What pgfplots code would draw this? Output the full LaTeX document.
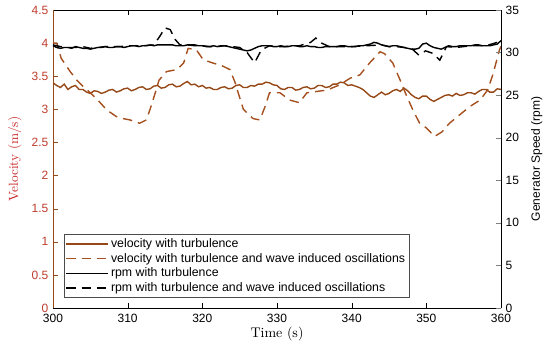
\documentclass[border=0pt]{standalone}
\usepackage{pgfplots}
\pgfplotsset{compat=1.18}
\usepackage{fontspec}
\newfontfamily\hel{Liberation Sans}
\usetikzlibrary{calc}
\definecolor{velsolid}{RGB}{150,72,22}
\definecolor{veldashc}{RGB}{165,80,30}
\definecolor{velaxis}{RGB}{150,72,22}
\definecolor{veltick}{RGB}{190,60,45}
\definecolor{vellabel}{RGB}{200,40,40}
\begin{document}
\begin{tikzpicture}
\pgfplotsset{
  myaxis/.style={
    scale only axis, width=336pt, height=223.5pt,
    xmin=300, xmax=360,
    tick align=inside,
    major tick length=4pt,
    /pgf/number format/assume math mode=true,
    tick label style={font=\hel\fontsize{9}{10}\selectfont},
    clip=true,
  },
  vS/.style={color=velsolid, line width=1.05pt, solid},
  vD/.style={color=veldashc, line width=1.05pt, dash pattern=on 7pt off 4.5pt},
  rS/.style={color=black, line width=1.05pt, solid},
  rD/.style={color=black, line width=1.05pt, dash pattern=on 7pt off 4.5pt},
}
\begin{axis}[myaxis, name=ax,
  ymin=0, ymax=4.5,
  axis y line*=left,
  xtick={300,310,...,360},
  ytick={0,0.5,...,4.5},
  yticklabels={0,0.5,1,1.5,2,2.5,3,3.5,4,4.5},
  y axis line style={velaxis},
  y tick style={velaxis},
  yticklabel style={veltick},
  xticklabel style={yshift=-1.2pt},
  x tick style={black},
  xlabel={Time (s)},
  xlabel style={font=\fontsize{10.5}{12}\selectfont, at={(axis description cs:0.5,-0.088)}, anchor=center},
  ylabel={Velocity (m/s)},
  ylabel style={font=\fontsize{10}{12}\selectfont, vellabel, at={(axis description cs:-0.085,0.5)}, anchor=center},
]
\addplot[vS] coordinates {
(300,3.40)(300.5,3.36)(301,3.33)(301.5,3.38)(302,3.30)(302.5,3.34)(303,3.36)(303.5,3.30)(304,3.30)(304.5,3.26)(305,3.24)(305.5,3.28)(306,3.27)(306.5,3.24)(307,3.26)(307.5,3.29)(308,3.30)(308.5,3.26)(309,3.28)(309.5,3.31)(310,3.32)(310.5,3.28)(311,3.30)(311.5,3.33)(312,3.34)(312.5,3.30)(313,3.31)(313.5,3.35)(314,3.36)(314.5,3.32)(315,3.33)(315.5,3.37)(316,3.38)(316.5,3.34)(317,3.35)(317.5,3.39)(318,3.42)(318.5,3.37)(319,3.38)(319.5,3.34)(320,3.36)(320.5,3.32)(321,3.33)(321.5,3.30)(322,3.30)(322.5,3.33)(323,3.34)(323.5,3.31)(324,3.32)(324.5,3.36)(325,3.37)(325.5,3.33)(326,3.33)(326.5,3.36)(327,3.35)(327.5,3.38)(328,3.38)(328.5,3.41)(329,3.40)(329.5,3.37)(330,3.36)(330.5,3.31)(331,3.30)(331.5,3.33)(332,3.33)(332.5,3.29)(333,3.30)(333.5,3.33)(334,3.34)(334.5,3.31)(335,3.32)(335.5,3.36)(336,3.36)(336.5,3.33)(337,3.34)(337.5,3.38)(338,3.38)(338.5,3.41)(339,3.40)(339.5,3.36)(340,3.37)(340.5,3.35)(341,3.33)(341.5,3.30)(342,3.25)(342.5,3.20)(343,3.18)(343.5,3.22)(344,3.26)(344.5,3.22)(345,3.24)(345.5,3.28)(346,3.30)(346.5,3.27)(347,3.32)(347.5,3.28)(348,3.22)(348.5,3.18)(349,3.16)(349.5,3.20)(350,3.20)(350.5,3.15)(351,3.12)(351.5,3.15)(352,3.18)(352.5,3.21)(353,3.22)(353.5,3.20)(354,3.24)(354.5,3.21)(355,3.22)(355.5,3.25)(356,3.25)(356.5,3.23)(357,3.27)(357.5,3.30)(358,3.30)(358.5,3.26)(359,3.26)(359.5,3.31)(360,3.30)
};
\addplot[vD] coordinates {
(300,4.00)(300.5,4.00)(301.1,3.77)(302.3,3.57)(303.2,3.44)(304,3.35)(305,3.25)(306,3.14)(307.2,2.99)(308.5,2.89)(309.4,2.86)(310.3,2.84)(311.6,2.79)(312.5,2.84)(313,3.00)(313.7,3.25)(314.2,3.44)(315.2,3.57)(316.6,3.60)(317.5,3.70)(318.1,3.92)(319.2,3.90)(320.1,3.75)(321.4,3.70)(322.6,3.66)(323.7,3.60)(324.4,3.40)(324.8,3.25)(325.5,3.00)(326.8,2.86)(327.7,2.84)(328.4,3.04)(329,3.25)(330.4,3.25)(331.7,3.14)(333,3.10)(334,3.25)(335.3,3.27)(336.7,3.29)(338.4,3.37)(339.8,3.47)(341.1,3.52)(342.4,3.70)(343.8,3.87)(344.4,3.84)(345.5,3.70)(346.5,3.44)(347.4,3.19)(348.2,2.99)(349.1,2.79)(350,2.72)(351.1,2.59)(352.1,2.66)(353.1,2.79)(354.5,2.92)(355.8,3.04)(357.2,3.14)(358.2,3.29)(358.9,3.52)(359.8,3.90)(360,3.95)
};
\end{axis}
\begin{axis}[myaxis,
  ymin=0, ymax=35,
  axis y line*=right,
  axis x line=none,
  ytick={0,5,...,35},
  ylabel={Generator Speed (rpm)},
  ylabel style={font=\hel\fontsize{9}{11}\selectfont, at={(axis description cs:1.08,0.5)}, anchor=center},
  legend cell align=left,
  legend style={at={(axis description cs:0.0246,0.034)}, anchor=south west,
    font=\hel\fontsize{9.25}{10}\selectfont, draw=black!70, inner sep=1pt,
    row sep=-1.2pt, fill=white},
  legend image code/.code={\draw[#1] (0pt,0pt) -- (31pt,0pt);},
]
\addlegendimage{vS}
\addlegendentry{velocity with turbulence}
\addlegendimage{vD}
\addlegendentry{velocity with turbulence and wave induced oscillations}
\addplot[rS] coordinates {
(300,30.8)(300.5,30.6)(301,30.5)(301.5,30.6)(302,30.6)(302.5,30.5)(303,30.7)(303.5,30.6)(304,30.5)(304.5,30.5)(305,30.4)(305.5,30.5)(306,30.6)(306.5,30.6)(307,30.7)(307.5,30.6)(308,30.6)(308.5,30.7)(309,30.7)(309.5,30.6)(310,30.7)(310.5,30.8)(311,30.8)(311.5,30.7)(312,30.8)(312.5,30.8)(313,30.9)(313.5,30.8)(314,30.9)(314.5,30.9)(315,30.9)(315.5,30.9)(316,30.9)(316.5,30.8)(317,30.8)(317.5,30.8)(318,30.9)(318.5,30.9)(319,30.9)(319.5,30.8)(320,30.8)(320.5,30.7)(321,30.7)(321.5,30.8)(322,30.7)(322.5,30.8)(323,30.8)(323.5,30.7)(324,30.6)(324.5,30.5)(325,30.4)(325.5,30.3)(326,30.2)(326.5,30.3)(327,30.5)(327.5,30.7)(328,30.8)(328.5,30.8)(329,30.8)(329.5,30.7)(330,30.7)(330.5,30.8)(331,30.7)(331.5,30.7)(332,30.8)(332.5,30.8)(333,30.7)(333.5,30.7)(334,30.8)(334.5,30.7)(335,30.7)(335.5,30.6)(336,30.6)(336.5,30.7)(337,30.7)(337.5,30.7)(338,30.7)(338.5,30.8)(339,30.8)(339.5,30.7)(340,30.7)(340.5,30.7)(341,30.8)(341.5,30.8)(342,30.9)(342.5,31.0)(343,31.2)(343.5,31.1)(344,30.9)(344.5,30.8)(345,30.7)(345.5,30.8)(346,30.8)(346.5,30.7)(347,30.6)(347.5,30.5)(348,30.4)(348.5,30.4)(349,30.5)(349.5,31.0)(350,31.1)(350.5,30.8)(351,30.6)(351.5,30.5)(352,30.4)(352.5,30.6)(353,30.8)(353.5,30.7)(354,30.7)(354.5,30.8)(355,30.8)(355.5,30.8)(356,30.8)(356.5,30.9)(357,30.9)(357.5,30.8)(358,30.8)(358.5,30.8)(359,30.9)(359.5,31.0)(360,31.4)
};
\addlegendentry{rpm with turbulence}
\addplot[rD] coordinates {
(300,30.9)(301,30.7)(302,30.6)(303,30.6)(304,30.7)(305,30.5)(306,30.6)(307,30.7)(308,30.7)(309,30.7)(310,30.8)(311,30.8)(312,30.8)(313.5,30.9)(314.3,31.9)(315,32.9)(315.7,32.7)(316.3,31.6)(317,30.9)(318,30.9)(319,30.8)(320,30.8)(321,30.7)(322,30.7)(323,30.8)(324,30.7)(325,30.6)(326,30.0)(327,28.8)(327.9,30.3)(329,30.8)(330,30.7)(331,30.7)(332,30.8)(333,30.8)(334.5,31.2)(335.2,31.7)(336,31.1)(337,30.7)(338,30.7)(340,30.7)(342,30.8)(344,30.9)(345,30.7)(346,30.7)(347,30.6)(348,30.5)(349,29.7)(349.9,30.2)(350.9,29.9)(351.8,29.1)(352.7,30.7)(354,30.6)(355,30.7)(356,30.8)(357,30.8)(358,30.8)(359.5,31.2)(360,31.6)
};
\addlegendentry{rpm with turbulence and wave induced oscillations}
\end{axis}
\pgfresetboundingbox
\path ($(ax.south west)+(-39.75pt,-29.25pt)$) rectangle ($(ax.north east)+(36.75pt,7.5pt)$);
\end{tikzpicture}
\end{document}
